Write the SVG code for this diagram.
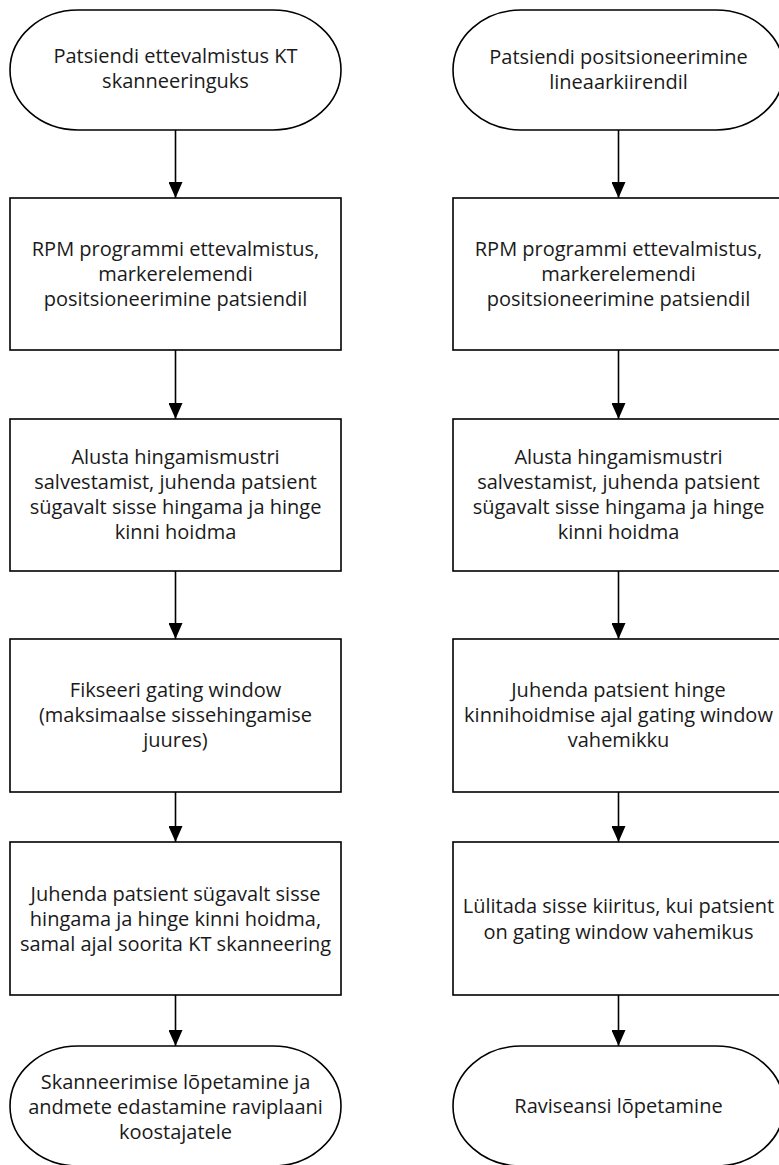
<svg xmlns="http://www.w3.org/2000/svg" width="779" height="1165" viewBox="0 0 779 1165">
<style>
.shape{fill:#ffffff;stroke:#000000;stroke-width:1.6}
.t{font-family:"Open Sans","Noto Sans","Liberation Sans",sans-serif;font-size:20px;fill:#1a1a1a;text-anchor:middle}
.c{stroke:#000000;stroke-width:1.6;fill:none;marker-end:url(#arr)}
</style>
<defs>
<marker id="arr" markerUnits="userSpaceOnUse" viewBox="0 0 16 14" refX="16" refY="7" markerWidth="16" markerHeight="14" orient="auto">
<path d="M0,0 L16,7 L0,14 z" fill="#000000"/>
</marker>
</defs>
<rect width="779" height="1165" fill="#ffffff"/>
<g id="connectors">
<line class="c" x1="175.5" y1="130" x2="175.5" y2="198"/>
<line class="c" x1="175.5" y1="350" x2="175.5" y2="419"/>
<line class="c" x1="175.5" y1="571" x2="175.5" y2="639"/>
<line class="c" x1="175.5" y1="792" x2="175.5" y2="842"/>
<line class="c" x1="175.5" y1="995" x2="175.5" y2="1046"/>
<line class="c" x1="618.5" y1="130" x2="618.5" y2="198"/>
<line class="c" x1="618.5" y1="350" x2="618.5" y2="419"/>
<line class="c" x1="618.5" y1="571" x2="618.5" y2="639"/>
<line class="c" x1="618.5" y1="792" x2="618.5" y2="842"/>
<line class="c" x1="618.5" y1="995" x2="618.5" y2="1046"/>
</g>
<g id="L1">
<rect class="shape" x="10" y="10" width="331" height="120" rx="68" ry="60"/>
<text class="t" x="175.5" y="63">Patsiendi ettevalmistus KT</text>
<text class="t" x="175.5" y="88">skanneeringuks</text>
</g>
<g id="L2">
<rect class="shape" x="10" y="198" width="331" height="152"/>
<text class="t" x="175.5" y="256">RPM programmi ettevalmistus,</text>
<text class="t" x="175.5" y="281">markerelemendi</text>
<text class="t" x="175.5" y="306">positsioneerimine patsiendil</text>
</g>
<g id="L3">
<rect class="shape" x="10" y="419" width="331" height="152"/>
<text class="t" x="175.5" y="464">Alusta hingamismustri</text>
<text class="t" x="175.5" y="489">salvestamist, juhenda patsient</text>
<text class="t" x="175.5" y="514">sügavalt sisse hingama ja hinge</text>
<text class="t" x="175.5" y="539">kinni hoidma</text>
</g>
<g id="L4">
<rect class="shape" x="10" y="639" width="331" height="153"/>
<text class="t" x="175.5" y="697">Fikseeri gating window</text>
<text class="t" x="175.5" y="722">(maksimaalse sissehingamise</text>
<text class="t" x="175.5" y="747">juures)</text>
</g>
<g id="L5">
<rect class="shape" x="10" y="842" width="331" height="153"/>
<text class="t" x="175.5" y="901">Juhenda patsient sügavalt sisse</text>
<text class="t" x="175.5" y="926">hingama ja hinge kinni hoidma,</text>
<text class="t" x="175.5" y="951">samal ajal soorita KT skanneering</text>
</g>
<g id="L6">
<rect class="shape" x="10" y="1046" width="331" height="120" rx="68" ry="60"/>
<text class="t" x="175.5" y="1089">Skanneerimise lõpetamine ja</text>
<text class="t" x="175.5" y="1114">andmete edastamine raviplaani</text>
<text class="t" x="175.5" y="1139">koostajatele</text>
</g>
<g id="R1">
<rect class="shape" x="453" y="10" width="331" height="120" rx="68" ry="60"/>
<text class="t" x="618.5" y="64">Patsiendi positsioneerimine</text>
<text class="t" x="618.5" y="89">lineaarkiirendil</text>
</g>
<g id="R2">
<rect class="shape" x="453" y="198" width="331" height="152"/>
<text class="t" x="618.5" y="256">RPM programmi ettevalmistus,</text>
<text class="t" x="618.5" y="281">markerelemendi</text>
<text class="t" x="618.5" y="306">positsioneerimine patsiendil</text>
</g>
<g id="R3">
<rect class="shape" x="453" y="419" width="331" height="152"/>
<text class="t" x="618.5" y="464">Alusta hingamismustri</text>
<text class="t" x="618.5" y="489">salvestamist, juhenda patsient</text>
<text class="t" x="618.5" y="514">sügavalt sisse hingama ja hinge</text>
<text class="t" x="618.5" y="539">kinni hoidma</text>
</g>
<g id="R4">
<rect class="shape" x="453" y="639" width="331" height="153"/>
<text class="t" x="618.5" y="697">Juhenda patsient hinge</text>
<text class="t" x="618.5" y="722">kinnihoidmise ajal gating window</text>
<text class="t" x="618.5" y="747">vahemikku</text>
</g>
<g id="R5">
<rect class="shape" x="453" y="842" width="331" height="153"/>
<text class="t" x="618.5" y="913">Lülitada sisse kiiritus, kui patsient</text>
<text class="t" x="618.5" y="939">on gating window vahemikus</text>
</g>
<g id="R6">
<rect class="shape" x="453" y="1046" width="331" height="120" rx="68" ry="60"/>
<text class="t" x="618.5" y="1113">Raviseansi lõpetamine</text>
</g>
</svg>
